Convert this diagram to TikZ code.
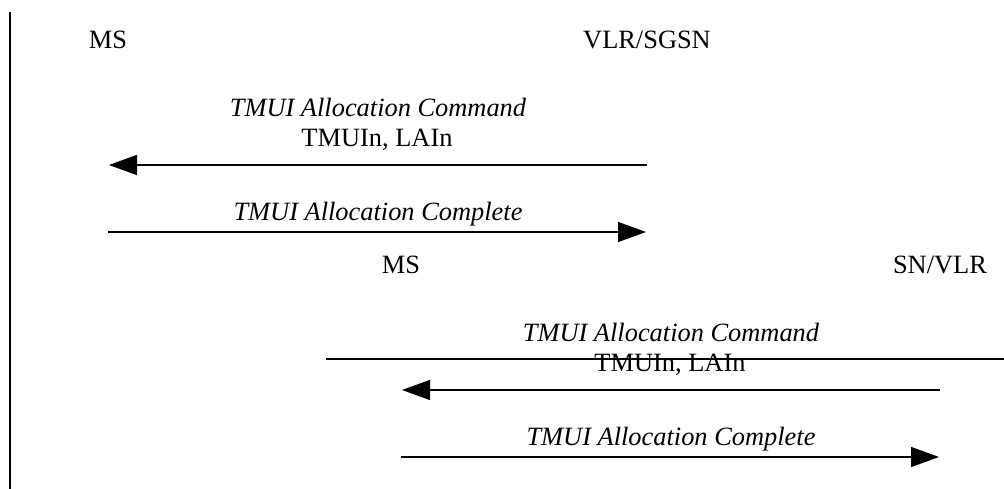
\documentclass[tikz,border=0pt]{standalone}
\usepackage{fontspec}
\setmainfont{Liberation Serif}
\usetikzlibrary{arrows.meta}
\tikzset{>={Triangle[length=21pt,width=15pt]}}
\tikzset{ent/.style={anchor=base,inner sep=0pt,font=\fontsize{19.8}{23}\selectfont},
  msgname/.style={ent,font=\fontsize{19.8}{23}\selectfont\itshape},
  msg/.style={line width=1pt}}

\begin{document}
\begin{tikzpicture}[x=0.75pt,y=-0.75pt]
      \useasboundingbox (0,0) rectangle (1004,489);
      \coordinate (edgetop) at (10,12);
      \coordinate (edgebot) at (10,489);
      \draw[line width=1.7pt] (edgetop) -- (edgebot);
      % VLR/SGSN
      \node[ent] (ms) at (108,48) {MS};
      \node[ent] (vlr) at (647,48) {VLR/SGSN};
      \coordinate (ms1) at (109,165);
      \coordinate (vlr1) at (647,165);
      \coordinate (ms2) at (108,232);
      \coordinate (vlr2) at (646,232);
      \node[msgname] (cmd) at (378,116) {TMUI Allocation Command};
      \node[ent] (par) at (377,146) {TMUIn, LAIn};
      \draw[msg,->] (vlr1) -- (ms1);
      \node[msgname] (cmpl) at (378,220) {TMUI Allocation Complete};
      \draw[msg,->] (ms2) -- (vlr2);
      % SN/VLR
      \node[ent] (msb) at (401,273) {MS};
      \node[ent] (sn) at (940,273) {SN/VLR};
      \coordinate (msb1) at (402,390);
      \coordinate (sn1) at (940,390);
      \coordinate (msb2) at (401,457);
      \coordinate (sn2) at (939,457);
      \node[msgname] (cmdb) at (671,341) {TMUI Allocation Command};
      \node[ent] (parb) at (670,371) {TMUIn, LAIn};
      \draw[msg,->] (sn1) -- (msb1);
      \node[msgname] (cmplb) at (671,445) {TMUI Allocation Complete};
      \draw[msg,->] (msb2) -- (sn2);
      \coordinate (rulel) at (326,359);
      \coordinate (ruler) at (1004,359);
      \draw[line width=1.3pt] (rulel) -- (ruler);
    \end{tikzpicture}
\end{document}
